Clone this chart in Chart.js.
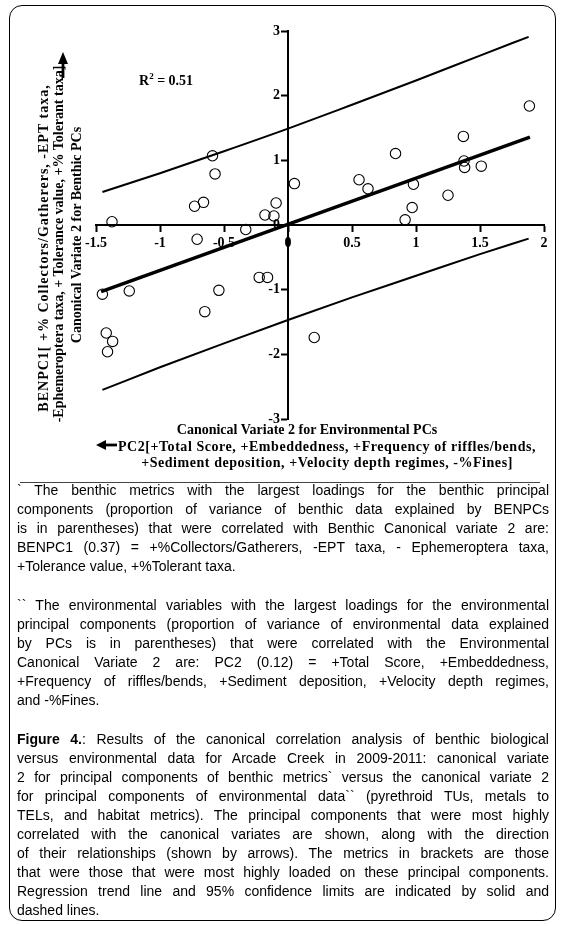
<!DOCTYPE html>
<html>
<head>
<meta charset="utf-8">
<script src="https://cdn.jsdelivr.net/npm/chart.js@4.4.1/dist/chart.umd.min.js"></script>
<style>
  html, body { margin: 0; padding: 0; background: #fff; }
  #page { position: relative; width: 568px; height: 926px; overflow: hidden; background: #fff; }
  #frame { position: absolute; left: 9px; top: 5px; width: 547px; height: 916px; border: 1px solid #000; border-radius: 13px; box-sizing: border-box; }
  canvas#c { position: absolute; left: 0; top: 0; }
  .serif { position: absolute; font-family: "Liberation Serif", "Times New Roman", serif; font-weight: bold; font-size: 14px; line-height: 1; color: #000; white-space: nowrap; }
  .ctr { transform: translate(-50%, -50%); }
  .rot { transform: translate(-50%, -50%) rotate(-90deg); }
  .ln { position: absolute; left: 17px; font-family: "Liberation Sans", Arial, sans-serif; font-size: 14px; line-height: 19px; color: #000; white-space: nowrap; }
  sup { font-size: 9px; vertical-align: 6px; line-height: 0; }
  svg { position: absolute; overflow: visible; }
</style>
</head>
<body>
<div id="page">
  <div id="frame"></div>
  <canvas id="c" width="568" height="926"></canvas>

  <div class="serif" style="left:139px; top:74px;">R<sup>2</sup> = 0.51</div>

  <div class="serif rot" style="left:44px; top:248px; letter-spacing:1px;">BENPC1[ +% Collectors/Gatherers, -EPT taxa,</div>
  <div class="serif rot" style="left:59px; top:244px;">-Ephemeroptera taxa, + Tolerance value, +% Tolerant taxa]</div>
  <div class="serif rot" style="left:77px; top:235px;">Canonical Variate 2 for Benthic PCs</div>

  <svg width="1" height="1" style="left:0;top:0;">
    <line x1="63" y1="78" x2="63" y2="63" stroke="#000" stroke-width="2.8"/>
    <polygon points="63,52 58,64 68,64" fill="#000"/>
    <line x1="117" y1="445" x2="104" y2="445" stroke="#000" stroke-width="2.8"/>
    <polygon points="96,445 106,440 106,450" fill="#000"/>
  </svg>

  <div class="serif ctr" style="left:307px; top:430px;">Canonical Variate 2 for Environmental PCs</div>
  <div class="serif ctr" style="left:327px; top:447px; letter-spacing:0.55px;">PC2[+Total Score, +Embeddedness, +Frequency of riffles/bends,</div>
  <div class="serif ctr" style="left:327px; top:463px; letter-spacing:0.55px;">+Sediment deposition, +Velocity depth regimes, -%Fines]</div>

  <div style="position:absolute; left:20px; top:482px; width:520px; height:1px; background:#444;"></div>

  <div id="notes"></div>
</div>

<script>
// ---- data ----
const envCV2 = [-0.59, -0.57, -0.66, -0.73, -1.375, -0.093, -0.18, -0.11, -0.33, -0.71,
                -1.45, -1.24, -0.54, -0.225, -0.16, -0.65, -1.42, -1.37, -1.41,
                1.886, 1.37, 0.84, 1.375, 1.38, 1.51, 0.05, 0.555, 0.625, 0.98, 1.25, 0.97, 0.915, 0.205];
const benCV2 = [1.07, 0.79, 0.35, 0.29, 0.05, 0.34, 0.155, 0.14, -0.07, -0.22,
                -1.07, -1.02, -1.01, -0.81, -0.81, -1.34, -1.67, -1.80, -1.96,
                1.84, 1.37, 1.105, 0.99, 0.89, 0.91, 0.64, 0.70, 0.56, 0.63, 0.46, 0.27, 0.08, -1.74];

const trendX = [-1.46, 1.89];
const trendY = [-1.03, 1.36];

const limitX = [-1.45, -1, -0.5, 0, 0.5, 1, 1.5, 1.88];
const upperY = [0.51, 0.80, 1.14, 1.49, 1.86, 2.235, 2.62, 2.91];
const lowerY = [-2.55, -2.20, -1.83, -1.47, -1.12, -0.785, -0.45, -0.21];

const xTicks = [-1.5, -1, -0.5, 0, 0.5, 1, 1.5, 2];
const yTicks = [-3, -2, -1, 0, 1, 2, 3];

const toXY = (xs, ys) => xs.map((x, i) => ({ x: x, y: ys[i] }));

const tickFont = { family: "'Liberation Serif', 'Times New Roman', serif", weight: 'bold', size: 14 };

// y labels of an axis placed at x=0 sit against the line; move them left of the tick marks
function offsetYLabels(scale) {
  const orig = Object.getPrototypeOf(scale).getLabelItems;
  scale.getLabelItems = function (ca) {
    const items = orig.call(this, ca);
    if (!items._shifted) {
      items.forEach(it => { it.options.translation[0] -= 8; });
      items._shifted = true;
    }
    return items;
  };
}

new Chart(document.getElementById('c'), {
  type: 'scatter',
  data: {
    datasets: [
      { label: 'Sites', data: toXY(envCV2, benCV2), pointStyle: 'circle', pointRadius: 5.2,
        pointBorderWidth: 1.1, pointBorderColor: '#000', pointBackgroundColor: 'rgba(255,255,255,0)',
        showLine: false, order: 0 },
      { label: 'Trend', data: toXY(trendX, trendY), showLine: true, borderColor: '#000', borderWidth: 3.5,
        pointRadius: 0, order: 1 },
      { label: 'Upper', data: toXY(limitX, upperY), showLine: true, borderColor: '#000', borderWidth: 2,
        pointRadius: 0, cubicInterpolationMode: 'monotone', order: 2 },
      { label: 'Lower', data: toXY(limitX, lowerY), showLine: true, borderColor: '#000', borderWidth: 2,
        pointRadius: 0, cubicInterpolationMode: 'monotone', order: 3 }
    ]
  },
  options: {
    responsive: false,
    animation: false,
    events: [],
    layout: { padding: { left: 96, top: 31, right: 24, bottom: 507 } },
    plugins: { legend: { display: false }, tooltip: { enabled: false } },
    scales: {
      x: {
        type: 'linear', min: -1.5, max: 2, position: { y: 0 },
        afterBuildTicks: (s) => { s.ticks = xTicks.map(v => ({ value: v })); },
        ticks: { font: tickFont, color: '#000', padding: 4, maxRotation: 0, autoSkip: false,
                 callback: (v) => String(v) },
        grid: { display: true, drawOnChartArea: false, drawTicks: true, tickLength: 6, tickWidth: 2, tickColor: '#000' },
        border: { display: true, color: '#000', width: 2 }
      },
      y: {
        type: 'linear', min: -3, max: 3, position: { x: 0 },
        afterBuildTicks: (s) => { s.ticks = yTicks.map(v => ({ value: v })); },
        afterUpdate: offsetYLabels,
        ticks: { font: tickFont, color: '#000', padding: 3, autoSkip: false, callback: (v) => String(v) },
        grid: { display: true, drawOnChartArea: false, drawTicks: true, tickLength: 6, tickWidth: 2, tickColor: '#000' },
        border: { display: true, color: '#000', width: 2 }
      }
    }
  }
});

// ---- footnotes and caption (justified line by line) ----
const notes = [
  { y: 490, last: false, html: "` The benthic metrics with the largest loadings for the benthic principal" },
  { y: 509, last: false, html: "components (proportion of variance of benthic data explained by BENPCs" },
  { y: 528, last: false, html: "is in parentheses) that were correlated with Benthic Canonical variate 2 are:" },
  { y: 547, last: false, html: "BENPC1 (0.37) = +%Collectors/Gatherers, -EPT taxa, - Ephemeroptera taxa," },
  { y: 566, last: true,  html: "+Tolerance value, +%Tolerant taxa." },
  { y: 605, last: false, html: "`` The environmental variables with the largest loadings for the environmental" },
  { y: 624, last: false, html: "principal components (proportion of variance of environmental data explained" },
  { y: 643, last: false, html: "by PCs is in parentheses) that were correlated with the Environmental" },
  { y: 662, last: false, html: "Canonical Variate 2 are: PC2 (0.12) = +Total Score, +Embeddedness," },
  { y: 681, last: false, html: "+Frequency of riffles/bends, +Sediment deposition, +Velocity depth regimes," },
  { y: 700, last: true,  html: "and -%Fines." },
  { y: 739, last: false, html: "<b>Figure 4.</b>: Results of the canonical correlation analysis of benthic biological" },
  { y: 758, last: false, html: "versus environmental data for Arcade Creek in 2009-2011: canonical variate" },
  { y: 777, last: false, html: "2 for principal components of benthic metrics` versus the canonical variate 2" },
  { y: 796, last: false, html: "for principal components of environmental data`` (pyrethroid TUs, metals to" },
  { y: 815, last: false, html: "TELs, and habitat metrics). The principal components that were most highly" },
  { y: 834, last: false, html: "correlated with the canonical variates are shown, along with the direction" },
  { y: 853, last: false, html: "of their relationships (shown by arrows). The metrics in brackets are those" },
  { y: 872, last: false, html: "that were those that were most highly loaded on these principal components." },
  { y: 891, last: false, html: "Regression trend line and 95% confidence limits are indicated by solid and" },
  { y: 910, last: true,  html: "dashed lines." }
];
const lineWidth = 532;
const host = document.getElementById('notes');
notes.forEach(n => {
  const el = document.createElement('span');
  el.className = 'ln';
  el.style.top = (n.y - 9.5) + 'px';
  el.innerHTML = n.html;
  host.appendChild(el);
  if (!n.last) {
    const w = el.getBoundingClientRect().width;
    const spaces = (el.textContent.match(/ /g) || []).length;
    if (spaces > 0) el.style.wordSpacing = ((lineWidth - w) / spaces) + 'px';
  }
});
</script>
</body>
</html>
